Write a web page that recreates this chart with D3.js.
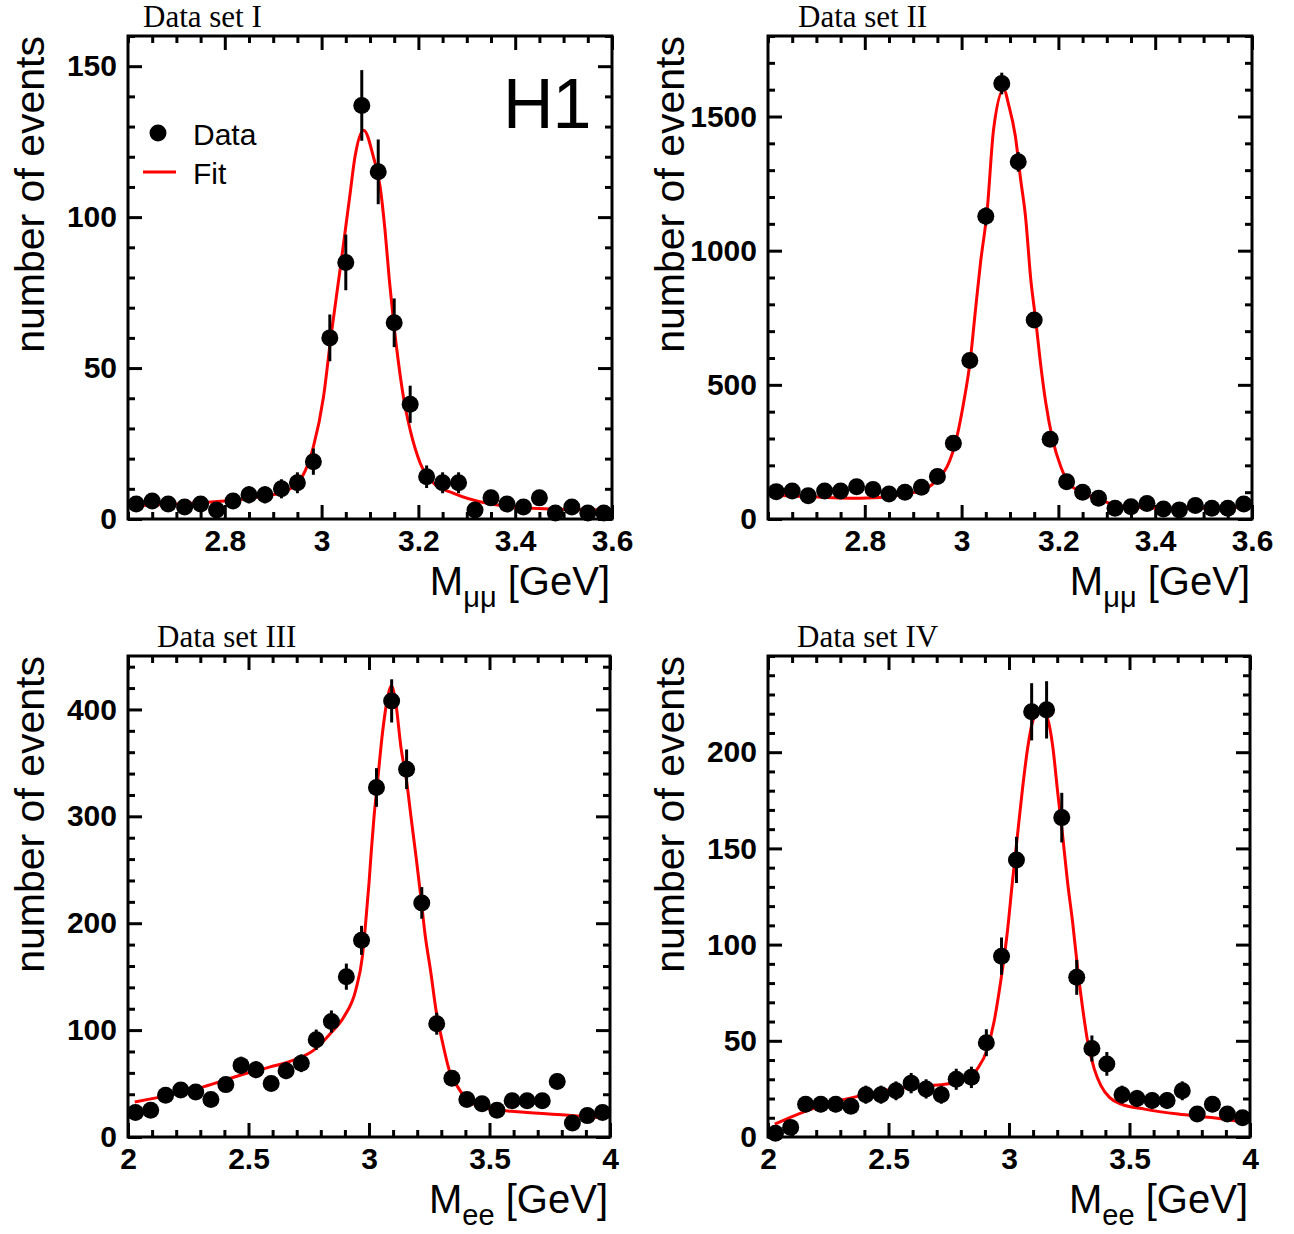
<!DOCTYPE html>
<html>
<head>
<meta charset="utf-8">
<script src="https://cdn.jsdelivr.net/npm/d3@7"></script>
<style>
  body { margin: 0; background: #fff; }
  text { font-family: 'Liberation Sans', Arial, Helvetica, sans-serif; }
</style>
</head>
<body>
<script>
// bin centres [GeV]
let massMuMu = [2.617, 2.650, 2.683, 2.717, 2.750, 2.783, 2.817, 2.850, 2.883, 2.917,
  2.950, 2.983, 3.017, 3.050, 3.083, 3.117, 3.150, 3.183, 3.217, 3.250,
  3.283, 3.317, 3.350, 3.383, 3.417, 3.450, 3.483, 3.517, 3.550, 3.583]
let massEE = [2.031, 2.094, 2.156, 2.219, 2.281, 2.344, 2.406, 2.469, 2.531, 2.594,
  2.656, 2.719, 2.781, 2.844, 2.906, 2.969, 3.031, 3.094, 3.156, 3.219,
  3.281, 3.344, 3.406, 3.469, 3.531, 3.594, 3.656, 3.719, 3.781, 3.844, 3.906, 3.969]

// number of events per bin
let countsI = [5, 6, 5, 4, 5, 3, 6, 8, 8, 10, 12, 19, 60, 85, 137, 115, 65, 38, 14, 12,
  12, 3, 7, 5, 4, 7, 2, 4, 2, 2]
let countsII = [102, 104, 87, 104, 104, 120, 110, 93, 100, 118, 158, 282, 591, 1128, 1623, 1331, 742, 297, 139, 100,
  77, 40, 46, 58, 37, 34, 50, 40, 40, 56]
let countsIII = [23, 25, 39, 44, 42, 35, 49, 67, 63, 50, 62, 69, 91, 108, 150, 184, 327, 408, 344, 219,
  106, 55, 35, 31, 25, 34, 34, 34, 52, 13, 20, 23]
let countsIV = [2, 5, 17, 17, 17, 16, 22, 22, 24, 28, 25, 22, 30, 31, 49, 94, 144, 221, 222, 166,
  83, 46, 38, 22, 20, 19, 19, 24, 12, 17, 12, 10]

// fit curves [mass, events]
let fitI = [[2.605, 4.3], [2.7, 5], [2.8, 6], [2.86, 7], [2.93, 9.6], [2.96, 14], [2.983, 23.9], [3.004, 40.5],
  [3.019, 60], [3.04, 84.7], [3.058, 106.7], [3.069, 120], [3.087, 128.8], [3.107, 120], [3.121, 110],
  [3.131, 95.7], [3.14, 79.1], [3.149, 64.8], [3.159, 51.6], [3.169, 40.5], [3.183, 29.5], [3.204, 18.4],
  [3.232, 11.8], [3.273, 8.5], [3.342, 5.2], [3.446, 3.5], [3.598, 3]]
let fitII = [[2.603, 89.6], [2.651, 85.8], [2.79, 77.1], [2.873, 89.6], [2.928, 114.4], [2.952, 151.7],
  [2.97, 195], [2.987, 282], [3.004, 431.6], [3.018, 593], [3.028, 767.5], [3.039, 954], [3.053, 1153],
  [3.066, 1451], [3.087, 1601], [3.098, 1538], [3.111, 1427], [3.122, 1265], [3.132, 1128], [3.143, 892],
  [3.153, 743], [3.163, 581], [3.174, 432], [3.188, 297], [3.205, 195], [3.222, 133], [3.253, 96],
  [3.302, 61], [3.343, 46], [3.447, 40], [3.592, 46]]
let fitIII = [[2.028, 32.8], [2.3125, 46.9], [2.465, 57.8], [2.59, 65.6], [2.6875, 71.9], [2.771, 81.3],
  [2.84, 96.9], [2.896, 112.5], [2.945, 137.5], [2.9725, 168.8], [2.986, 200], [3.0, 237.5], [3.01, 268.8],
  [3.021, 300], [3.035, 331.3], [3.056, 378.2], [3.076, 409.4], [3.093, 421.9], [3.111, 406.3],
  [3.132, 365.6], [3.157, 331.3], [3.174, 300], [3.195, 262.5], [3.215, 225], [3.232, 190.6],
  [3.257, 153.2], [3.278, 118.8], [3.306, 87.6], [3.333, 62.5], [3.368, 46.9], [3.41, 34.4],
  [3.493, 26.6], [3.632, 23.4], [3.827, 20.3], [3.97, 18]]
let fitIV = [[2.028, 6.7], [2.09, 10.1], [2.16, 13.6], [2.243, 17.1], [2.382, 21.4], [2.521, 24.9],
  [2.66, 26.6], [2.743, 27.5], [2.827, 30.1], [2.868, 35.3], [2.91, 45.7], [2.9375, 59.6], [2.965, 80.4],
  [2.993, 106.4], [3.014, 132.4], [3.035, 156.7], [3.056, 181], [3.077, 201.8], [3.0975, 215.7],
  [3.129, 222.6], [3.16, 217.4], [3.181, 203.5], [3.202, 179.2], [3.2225, 156.7], [3.243, 132.4],
  [3.264, 111.6], [3.285, 87.3], [3.306, 66.5], [3.327, 49.2], [3.354, 35.3], [3.382, 26.6],
  [3.417, 20.6], [3.465, 17.1], [3.5625, 14.5], [3.702, 11.9], [3.84, 10.1], [3.97, 7.8]]

// tick labels
let ticksXmumu = [2.8, 3, 3.2, 3.4, 3.6]
let ticksXee = [2, 2.5, 3, 3.5, 4]
let ticksYI = [0, 50, 100, 150]
let ticksYII = [0, 500, 1000, 1500]
let ticksYIII = [0, 100, 200, 300, 400]
let ticksYIV = [0, 50, 100, 150, 200]

let titles = ['Data set I', 'Data set II', 'Data set III', 'Data set IV']
let legendLabels = ['Data', 'Fit']

let panels = [
  {title: titles[0], left: 128, top: 36, w: 484, h: 483, xDom: [2.6, 3.6], yDom: [0, 160],
    mass: massMuMu, counts: countsI, fit: fitI, xTicks: ticksXmumu, xMinor: 0.05,
    yTicks: ticksYI, yMinor: 10, sub: 'μμ', titleDx: 15},
  {title: titles[1], left: 768, top: 36, w: 484, h: 483, xDom: [2.6, 3.6], yDom: [0, 1800],
    mass: massMuMu, counts: countsII, fit: fitII, xTicks: ticksXmumu, xMinor: 0.05,
    yTicks: ticksYII, yMinor: 100, sub: 'μμ', titleDx: 30},
  {title: titles[2], left: 128, top: 656, w: 482, h: 481, xDom: [2, 4], yDom: [0, 450],
    mass: massEE, counts: countsIII, fit: fitIII, xTicks: ticksXee, xMinor: 0.1,
    yTicks: ticksYIII, yMinor: 20, sub: 'ee', titleDx: 29},
  {title: titles[3], left: 768, top: 656, w: 482, h: 481, xDom: [2, 4], yDom: [0, 250],
    mass: massEE, counts: countsIV, fit: fitIV, xTicks: ticksXee, xMinor: 0.1,
    yTicks: ticksYIV, yMinor: 10, sub: 'ee', titleDx: 29}
]

let svg = d3.select('body').append('svg')
  .attr('width', 1294)
  .attr('height', 1234)

// minor tick positions inside the domain, majors left out
function minorTicks (dom, step, majors) {
  let n = Math.floor((dom[1] - dom[0]) / step + 1e-6)
  let out = []
  for (let i = 0; i <= n; i++) {
    let v = +(dom[0] + i * step).toFixed(4)
    if (!majors.some(m => Math.abs(m - v) < 1e-6)) out.push(v)
  }
  return out
}

function styleAxis (sel) {
  sel.select('.domain').remove()
  sel.selectAll('line').attr('stroke-width', 3)
  sel.selectAll('text')
    .style('font-size', '30px')
    .style('font-weight', 'bold')
    .attr('fill', '#000')
}

panels.forEach(p => {
  let g = svg.append('g').attr('transform', 'translate(' + p.left + ',' + p.top + ')')
  let x = d3.scaleLinear().domain(p.xDom).range([0, p.w])
  let y = d3.scaleLinear().domain(p.yDom).range([p.h, 0])

  let xMin = minorTicks(p.xDom, p.xMinor, p.xTicks)
  let yMin = minorTicks(p.yDom, p.yMinor, p.yTicks)

  // ticks on all four sides, pointing inwards
  g.append('g').attr('transform', 'translate(0,' + p.h + ')')
    .call(d3.axisBottom(x).tickValues(p.xTicks).tickSize(-14).tickPadding(11).tickFormat(d3.format('')))
    .call(styleAxis)
  g.append('g').attr('transform', 'translate(0,' + p.h + ')')
    .call(d3.axisBottom(x).tickValues(xMin).tickSize(-7).tickFormat(''))
    .call(styleAxis)
  g.append('g')
    .call(d3.axisTop(x).tickValues(p.xTicks).tickSize(-14).tickFormat(''))
    .call(styleAxis)
  g.append('g')
    .call(d3.axisTop(x).tickValues(xMin).tickSize(-7).tickFormat(''))
    .call(styleAxis)
  g.append('g')
    .call(d3.axisLeft(y).tickValues(p.yTicks).tickSize(-14).tickPadding(11).tickFormat(d3.format('')))
    .call(styleAxis)
  g.append('g')
    .call(d3.axisLeft(y).tickValues(yMin).tickSize(-7).tickFormat(''))
    .call(styleAxis)
  g.append('g').attr('transform', 'translate(' + p.w + ',0)')
    .call(d3.axisRight(y).tickValues(p.yTicks).tickSize(-14).tickFormat(''))
    .call(styleAxis)
  g.append('g').attr('transform', 'translate(' + p.w + ',0)')
    .call(d3.axisRight(y).tickValues(yMin).tickSize(-7).tickFormat(''))
    .call(styleAxis)

  g.append('rect')
    .attr('width', p.w)
    .attr('height', p.h)
    .attr('fill', 'none')
    .attr('stroke', '#000')
    .attr('stroke-width', 3)

  // fit curve
  let line = d3.line()
    .x(d => x(d[0]))
    .y(d => y(d[1]))
    .curve(d3.curveMonotoneX)
  g.append('path')
    .datum(p.fit)
    .attr('d', line)
    .attr('fill', 'none')
    .attr('stroke', '#ff0000')
    .attr('stroke-width', 3)

  // data points with Poisson errors
  let pts = p.mass.map((m, i) => ({m: m, n: p.counts[i], e: Math.sqrt(p.counts[i])}))
  g.selectAll('.err').data(pts).enter().append('line')
    .attr('class', 'err')
    .attr('x1', d => x(d.m))
    .attr('x2', d => x(d.m))
    .attr('y1', d => y(Math.max(0, d.n - d.e)))
    .attr('y2', d => y(d.n + d.e))
    .attr('stroke', '#000')
    .attr('stroke-width', 3)
  g.selectAll('.pt').data(pts).enter().append('circle')
    .attr('class', 'pt')
    .attr('cx', d => x(d.m))
    .attr('cy', d => y(d.n))
    .attr('r', 8.5)
    .attr('fill', '#000')

  // titles
  g.append('text')
    .attr('x', p.titleDx)
    .attr('y', -9)
    .style('font-family', "'Liberation Serif', 'Times New Roman', serif")
    .style('font-size', '31px')
    .text(p.title)

  g.append('text')
    .attr('transform', 'rotate(-90)')
    .attr('x', 0)
    .attr('y', -84)
    .attr('text-anchor', 'end')
    .style('font-size', '41px')
    .text('number of events')

  let xt = g.append('text')
    .attr('x', p.w - 2)
    .attr('y', p.h + 76)
    .attr('text-anchor', 'end')
    .style('font-size', '40px')
  xt.append('tspan').text('M')
  xt.append('tspan').attr('dy', 12).style('font-size', '29px').text(p.sub)
  xt.append('tspan').attr('dy', -12).text(' [GeV]')
})

// H1 logo and legend in the first panel
let g0 = svg.append('g')
g0.append('text')
  .attr('x', 503)
  .attr('y', 128)
  .style('font-size', '70px')
  .style('letter-spacing', '-1px')
  .text('H1')
g0.append('circle').attr('cx', 158).attr('cy', 133).attr('r', 8.5).attr('fill', '#000')
g0.append('text').attr('x', 193).attr('y', 145).style('font-size', '30px').text(legendLabels[0])
g0.append('line').attr('x1', 143).attr('x2', 176).attr('y1', 172).attr('y2', 172)
  .attr('stroke', '#ff0000').attr('stroke-width', 3)
g0.append('text').attr('x', 193).attr('y', 184).style('font-size', '30px').text(legendLabels[1])
</script>
</body>
</html>
